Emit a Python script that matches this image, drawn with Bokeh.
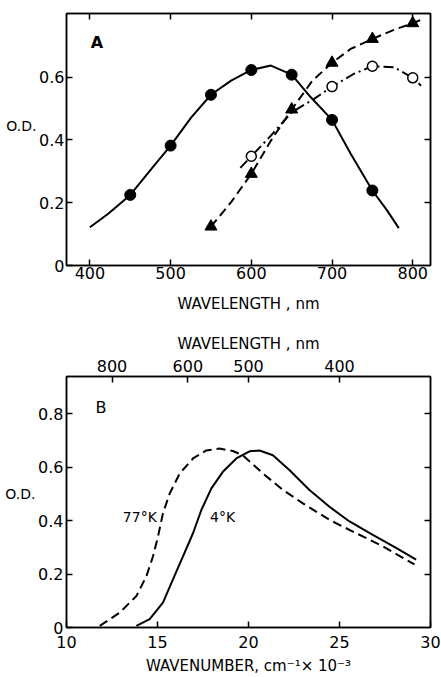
from bokeh.plotting import figure
from bokeh.layouts import column
from bokeh.models import (FixedTicker, LinearAxis, Label, Range1d, CustomJSTickFormatter)
from bokeh.embed import file_html
from bokeh.resources import INLINE

FONT = "DejaVu Sans"

# ---------------- Panel A data ----------------
a_wl_circ = [450, 500, 550, 600, 650, 700, 750]
a_od_circ = [0.225, 0.382, 0.544, 0.623, 0.608, 0.464, 0.239]
a_curve_circ_x = [400, 422.7, 450, 476.2, 500, 525.6, 550, 575, 600, 624.3, 650, 673.7, 700, 723.1, 750, 768.4, 782.7]
a_curve_circ_y = [0.122, 0.165, 0.225, 0.308, 0.382, 0.472, 0.544, 0.589, 0.623, 0.637, 0.608, 0.536, 0.464, 0.356, 0.239, 0.175, 0.119]

a_wl_tri = [550, 600, 650, 700, 750, 800]
a_od_tri = [0.124, 0.292, 0.497, 0.646, 0.722, 0.772]
a_curve_tri_x = [550, 575, 600, 624.3, 650, 675.7, 700, 723, 750, 776.6, 800, 810.3]
a_curve_tri_y = [0.124, 0.202, 0.292, 0.398, 0.497, 0.589, 0.646, 0.690, 0.722, 0.751, 0.772, 0.783]

a_wl_open = [600, 700, 750, 800]
a_od_open = [0.348, 0.570, 0.635, 0.598]
a_curve_open_x = [586.4, 600, 624.3, 650, 677.8, 700, 727.2, 750, 776.6, 800, 810.3]
a_curve_open_y = [0.311, 0.348, 0.414, 0.488, 0.531, 0.570, 0.611, 0.635, 0.632, 0.598, 0.573]

a_xticks = [400, 500, 600, 700, 800]
a_yticks = [0, 0.2, 0.4, 0.6]

# ---------------- Panel B data ----------------
b_4k_x = [13.84, 14.57, 15.30, 15.85, 16.40, 16.95, 17.41, 17.96, 18.59, 19.33, 20.06, 20.61, 21.34,
          22.26, 23.35, 24.45, 25.55, 26.83, 28.11, 29.21]
b_4k_y = [0.006, 0.031, 0.093, 0.180, 0.266, 0.353, 0.440, 0.521, 0.583, 0.633, 0.660, 0.663, 0.645,
          0.589, 0.515, 0.452, 0.397, 0.347, 0.298, 0.254]
b_77k_x = [11.83, 12.93, 13.84, 14.39, 14.75, 15.03, 15.30, 15.67, 16.22, 16.95, 17.68, 18.41, 19.14,
           19.69, 20.79, 21.89, 22.99, 24.45, 25.92, 27.38, 29.12]
b_77k_y = [0.006, 0.056, 0.118, 0.192, 0.266, 0.341, 0.428, 0.502, 0.577, 0.633, 0.663, 0.670, 0.661,
           0.645, 0.577, 0.515, 0.465, 0.403, 0.353, 0.304, 0.236]

b_xticks = [10, 15, 20, 25, 30]
b_yticks = [0, 0.2, 0.4, 0.6, 0.8]
b_top_wl = [800, 600, 500, 400]


def style_axis(ax, size="16px"):
    ax.major_label_text_font = FONT
    ax.major_label_text_font_size = size
    ax.major_label_text_color = "black"
    ax.axis_label_text_font = FONT
    ax.axis_label_text_font_size = "15px"
    ax.axis_label_text_font_style = "normal"
    ax.axis_label_text_color = "black"
    ax.axis_line_color = "black"
    ax.axis_line_width = 1.5
    ax.major_tick_line_color = "black"
    ax.major_tick_line_width = 1.5
    ax.major_tick_in = 6
    ax.major_tick_out = 0
    ax.minor_tick_line_color = None


def ticks_only(ticks):
    ax = LinearAxis(ticker=FixedTicker(ticks=ticks),
                    formatter=CustomJSTickFormatter(code="return ''"))
    style_axis(ax)
    ax.major_label_standoff = 0
    return ax


def od_axis(ypos):
    ax = LinearAxis(ticker=FixedTicker(ticks=[ypos]), major_label_overrides={ypos: "O.D."})
    style_axis(ax)
    ax.major_label_text_font_size = "14px"
    ax.axis_line_color = None
    ax.major_tick_line_color = None
    ax.major_tick_in = 0
    ax.major_label_standoff = 0
    return ax


# ---------------- Figure A ----------------
pa = figure(width=441, height=320, output_backend="svg", toolbar_location=None,
            x_range=Range1d(371, 822), y_range=Range1d(0, 0.803),
            min_border_left=65, min_border_right=11, min_border_top=13, min_border_bottom=55)
pa.grid.visible = False
pa.outline_line_color = "black"
pa.outline_line_width = 1.5
pa.xaxis.ticker = FixedTicker(ticks=a_xticks)
pa.yaxis.ticker = FixedTicker(ticks=a_yticks)
pa.yaxis.major_label_overrides = {0: "0", 0.2: "0.2", 0.4: "0.4", 0.6: "0.6"}
pa.xaxis.axis_label = "WAVELENGTH , nm"
for ax in pa.xaxis + pa.yaxis:
    style_axis(ax)
pa.xaxis.major_label_standoff = 1
pa.xaxis.axis_label_standoff = 13
pa.yaxis.major_label_standoff = 2

pa.add_layout(od_axis(0.446), "left")
pa.add_layout(ticks_only(a_xticks), "above")
pa.add_layout(ticks_only(a_yticks[1:]), "right")

pa.line(a_curve_circ_x, a_curve_circ_y, line_color="black", line_width=2)
pa.line(a_curve_tri_x, a_curve_tri_y, line_color="black", line_width=2, line_dash="9 5")
pa.line(a_curve_open_x, a_curve_open_y, line_color="black", line_width=2, line_dash="10 4 2 4")
pa.scatter(a_wl_circ, a_od_circ, marker="circle", size=11, fill_color="black", line_color="black")
pa.scatter(a_wl_tri, a_od_tri, marker="triangle", size=12, fill_color="black", line_color="black")
pa.scatter(a_wl_open, a_od_open, marker="circle", size=10, fill_color="white", line_color="black", line_width=1.5)

pa.add_layout(Label(x=401, y=0.71, text="A", text_font=FONT, text_font_size="16px", text_color="black",
                    text_font_style="bold", text_align="left", text_baseline="middle"))

# ---------------- Figure B ----------------
pb = figure(width=441, height=357, output_backend="svg", toolbar_location=None,
            x_range=Range1d(10, 30), y_range=Range1d(0, 0.94),
            min_border_left=66, min_border_right=10, min_border_top=56, min_border_bottom=49)
pb.grid.visible = False
pb.outline_line_color = "black"
pb.outline_line_width = 1.5
pb.xaxis.ticker = FixedTicker(ticks=b_xticks)
pb.yaxis.ticker = FixedTicker(ticks=b_yticks)
pb.yaxis.major_label_overrides = {0: "0", 0.2: "0.2", 0.4: "0.4", 0.6: "0.6", 0.8: "0.8"}
pb.xaxis.axis_label = "WAVENUMBER, cm\u207b\u00b9\u00d7 10\u207b\u00b3"
for ax in pb.xaxis + pb.yaxis:
    style_axis(ax)
pb.xaxis.major_label_standoff = 8
pb.xaxis.axis_label_standoff = 6
pb.yaxis.major_label_standoff = 3

pb.add_layout(od_axis(0.50), "left")
tb = LinearAxis(ticker=FixedTicker(ticks=[1e4 / w for w in b_top_wl]),
                formatter=CustomJSTickFormatter(code="return (1e4/tick).toFixed(0)"),
                axis_label="WAVELENGTH , nm")
style_axis(tb)
tb.major_label_standoff = 5
tb.axis_label_standoff = 4
pb.add_layout(tb, "above")
pb.add_layout(ticks_only(b_yticks[1:]), "right")

pb.line(b_4k_x, b_4k_y, line_color="black", line_width=2)
pb.line(b_77k_x, b_77k_y, line_color="black", line_width=2, line_dash="9 5")

pb.add_layout(Label(x=11.6, y=0.825, text="B", text_font=FONT, text_font_size="16px", text_color="black",
                    text_align="left", text_baseline="middle"))
pb.add_layout(Label(x=14.03, y=0.415, text="77\u00b0K", text_font=FONT, text_font_size="14px",
                    text_color="black", text_align="center", text_baseline="middle"))
pb.add_layout(Label(x=18.58, y=0.415, text="4\u00b0K", text_font=FONT, text_font_size="14px",
                    text_color="black", text_align="center", text_baseline="middle"))

layout = column(pa, pb, spacing=0)
open("out.html", "w").write(file_html(layout, INLINE))
